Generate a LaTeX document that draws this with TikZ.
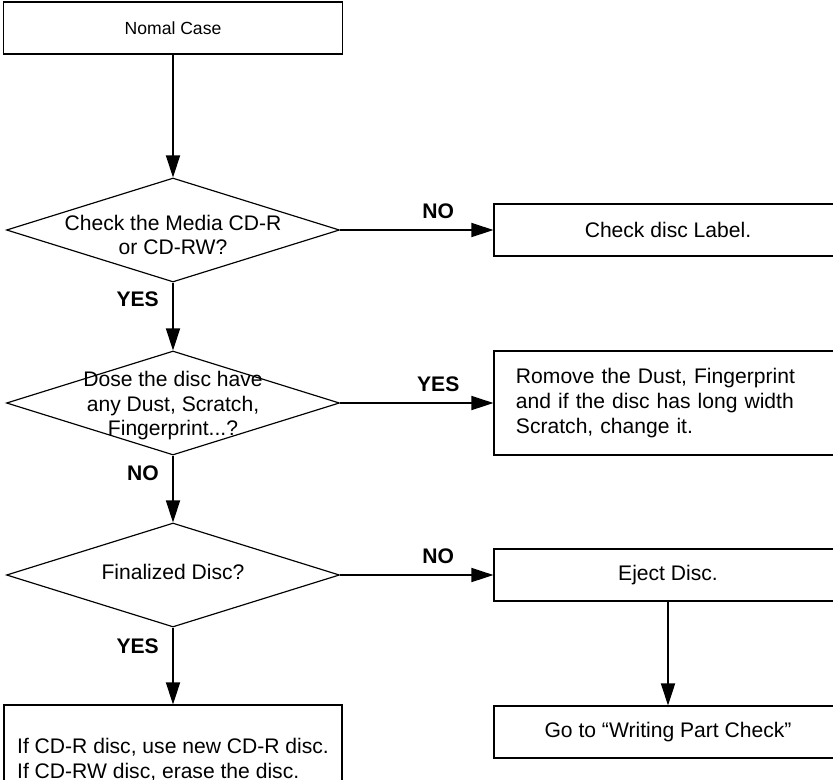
\documentclass[tikz,border=0pt]{standalone}
\usepackage{fontspec}
\setmainfont{Liberation Sans}
\usetikzlibrary{shapes.geometric,arrows.meta}

\tikzset{
  box/.style={draw,line width=1pt,minimum width=10.44cm,minimum height=1.56cm,inner sep=0pt,
    font=\fontsize{18}{21.5}\selectfont},
  decision/.style={diamond,draw,line width=1pt,minimum width=9.99cm,minimum height=3.12cm,inner sep=0pt},
  dtext/.style={align=center,inner sep=0pt,font=\fontsize{18}{21}\selectfont},
  flow/.style={line width=1.6pt,-{Triangle[length=0.66cm,width=0.42cm]}},
  hlab/.style={pos=0.64,above=0.3cm,inner sep=0pt,font=\fontsize{18}{21}\selectfont\bfseries},
  vlab/.style={left=0.4cm,inner sep=0pt,font=\fontsize{18}{21}\selectfont\bfseries}
}

\begin{document}
\begin{tikzpicture}[x=0.03cm,y=-0.03cm]
\useasboundingbox (0,0) rectangle (833,780);
\clip (0,0) rectangle (833,780);
%\draw[step=1cm,gray,very thin] (0,0) grid (833,780);
\node[box,minimum width=10.17cm,font=\fontsize{15}{18}\selectfont] (start) at (173,28) {Nomal Case};
\node[decision,label={[dtext,yshift=-0.15cm]center:Check the Media CD-R\\or CD-RW?}] (media) at (173,230) {};
\node[decision,label={[dtext,yshift=-0.08cm]center:Dose the disc have\\any Dust, Scratch,\\Fingerprint...?}] (dust) at (173,403) {};
\node[decision,label={[dtext,yshift=0.08cm]center:Finalized Disc?}] (final) at (173,575) {};
\node[box] (label) at (668,230) {Check disc Label.};
\node[box,minimum height=3.12cm,text width=9.12cm,inner xsep=0.66cm,align=left] (clean) at (668,403)
  {Romove the Dust, Fingerprint\\and if the disc has long width\\Scratch, change it.};
\node[box] (eject) at (668,575) {Eject Disc.};
\node[box] (write) at (668,732) {Go to “Writing Part Check”};
\node[box,minimum width=10.14cm,minimum height=3.3cm,align=left] (erase) at (173,760)
  {If CD-R disc, use new CD-R disc.\\If CD-RW disc, erase the disc.};

\draw[flow] (start.south) -- (media.north);
\draw[flow] (media.east) -- node[hlab]{NO} (label.west);
\draw[flow] (media.south) -- node[vlab,pos=0.25]{YES} (dust.north);
\draw[flow] (dust.east) -- node[hlab]{YES} (clean.west);
\draw[flow] (dust.south) -- node[vlab,pos=0.27]{NO} (final.north);
\draw[flow] (final.east) -- node[hlab]{NO} (eject.west);
\draw[flow] (final.south) -- node[vlab,pos=0.24]{YES} (erase.north);
\draw[flow] (eject.south) -- (write.north);
\end{tikzpicture}
\end{document}
